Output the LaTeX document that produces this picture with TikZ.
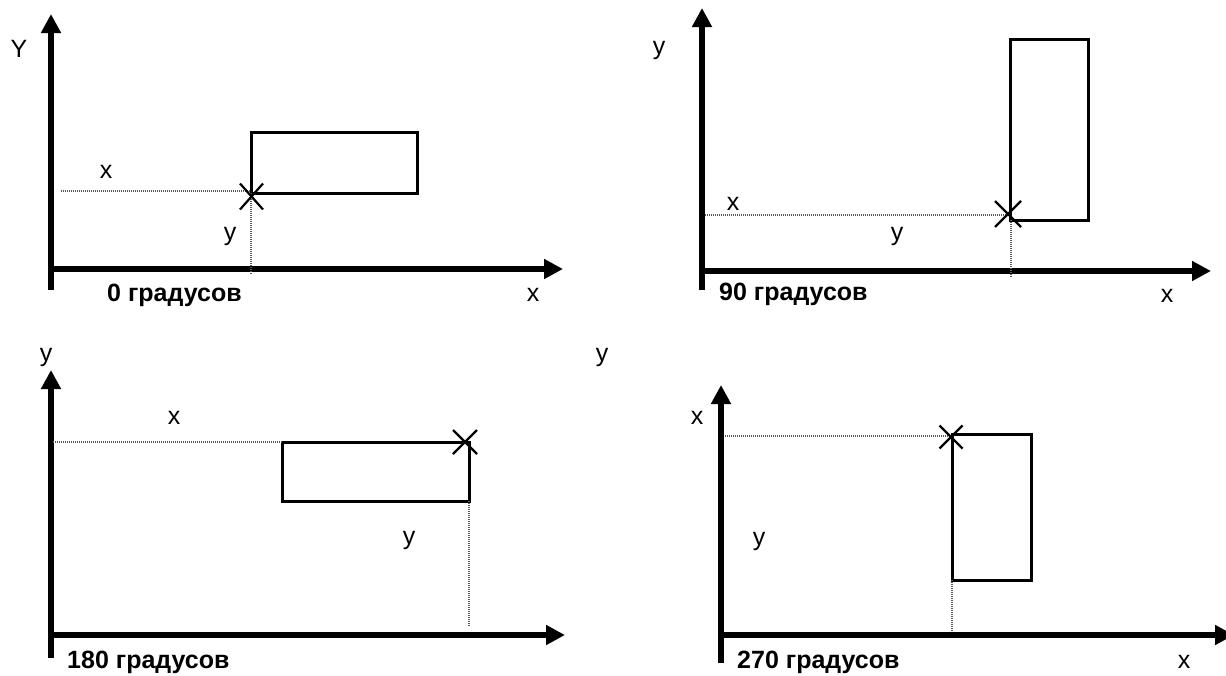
\documentclass[tikz,border=0pt]{standalone}
\usepackage{fontspec}
\setmainfont{Liberation Sans}
\usetikzlibrary{arrows.meta}
\begin{document}
\begin{tikzpicture}[x=1pt,y=-1pt,
  axisline/.style={line width=5.5pt,-{Triangle[length=19pt,width=19pt]}},
  frame/.style={line width=3pt},
  crossline/.style={line width=2.2pt},
  guide/.style={line width=1.1pt,black!65,dash pattern=on 1pt off 1pt},
  lbl/.style={inner sep=0pt,anchor=base,font=\fontsize{25}{29}\selectfont},
  ttl/.style={inner sep=0pt,anchor=base west,font=\fontsize{25}{29}\selectfont\bfseries}]
\useasboundingbox (0,0) rectangle (1226,675);
% ---------- panel 1: 0 degrees ----------
\coordinate (a1b) at (51,290);
\coordinate (a1t) at (51,14);
\coordinate (a1o) at (48.5,269);
\coordinate (a1r) at (563,269);
\draw[axisline] (a1b) -- (a1t);
\draw[axisline] (a1o) -- (a1r);
\coordinate (r1a) at (251,132);
\coordinate (r1b) at (417,193);
\draw[frame] (r1a) rectangle (r1b);
\coordinate (g1a) at (61,191);
\coordinate (g1b) at (251,191);
\coordinate (g1c) at (251,193);
\coordinate (g1d) at (251,275);
\draw[guide] (g1a) -- (g1b);
\draw[guide] (g1c) -- (g1d);
\coordinate (c1) at (251.5,196.5);
\draw[crossline,shift={(c1)}] (-11.5,-13) -- (11.5,13) (-11.5,13) -- (11.5,-13);
\node[lbl] (l1Y) at (19,57) {Y};
\node[lbl] (l1x) at (106,178) {x};
\node[lbl] (l1y) at (230,240) {y};
\node[lbl] (l1ax) at (533,301) {x};
\node[ttl] (t1) at (107,301) {0 градусов};
% ---------- panel 2: 90 degrees ----------
\coordinate (a2b) at (702,290);
\coordinate (a2t) at (702,8);
\coordinate (a2o) at (699.5,271);
\coordinate (a2r) at (1211,271);
\draw[axisline] (a2b) -- (a2t);
\draw[axisline] (a2o) -- (a2r);
\coordinate (r2a) at (1010,39);
\coordinate (r2b) at (1088,220);
\draw[frame] (r2a) rectangle (r2b);
\coordinate (g2a) at (705,215);
\coordinate (g2b) at (1010,215);
\coordinate (g2c) at (1011,220);
\coordinate (g2d) at (1011,277);
\draw[guide] (g2a) -- (g2b);
\draw[guide] (g2c) -- (g2d);
\coordinate (c2) at (1008,214);
\draw[crossline,shift={(c2)}] (-13,-13) -- (13,13) (-13,13) -- (13,-13);
\node[lbl] (l2y) at (659,54.5) {y};
\node[lbl] (l2x) at (733,210) {x};
\node[lbl] (l2yy) at (897,240) {y};
\node[lbl] (l2ax) at (1167,302) {x};
\node[ttl] (t2) at (719,300) {90 градусов};
% ---------- panel 3: 180 degrees ----------
\coordinate (a3b) at (51,658);
\coordinate (a3t) at (51,370);
\coordinate (a3o) at (48.5,635);
\coordinate (a3r) at (565,635);
\draw[axisline] (a3b) -- (a3t);
\draw[axisline] (a3o) -- (a3r);
\coordinate (r3a) at (282,442);
\coordinate (r3b) at (469,501);
\draw[frame] (r3a) rectangle (r3b);
\coordinate (g3a) at (53,442);
\coordinate (g3b) at (282,442);
\coordinate (g3c) at (469,501);
\coordinate (g3d) at (469,626);
\draw[guide] (g3a) -- (g3b);
\draw[guide] (g3c) -- (g3d);
\coordinate (c3) at (465,442);
\draw[crossline,shift={(c3)}] (-12,-12) -- (12,12) (-12,12) -- (12,-12);
\node[lbl] (l3y) at (46,361) {y};
\node[lbl] (l3x) at (174,424) {x};
\node[lbl] (l3yy) at (409,544) {y};
\node[ttl] (t3) at (67,668) {180 градусов};
% ---------- panel 4: 270 degrees ----------
\coordinate (a4b) at (721,663);
\coordinate (a4t) at (721,385);
\coordinate (a4o) at (718.5,635);
\coordinate (a4r) at (1234,635);
\draw[axisline] (a4b) -- (a4t);
\draw[axisline] (a4o) -- (a4r);
\coordinate (r4a) at (952,434);
\coordinate (r4b) at (1031,580);
\draw[frame] (r4a) rectangle (r4b);
\coordinate (g4a) at (725,436);
\coordinate (g4b) at (952,436);
\coordinate (g4c) at (952,580);
\coordinate (g4d) at (952,632);
\draw[guide] (g4a) -- (g4b);
\draw[guide] (g4c) -- (g4d);
\coordinate (c4) at (951,437);
\draw[crossline,shift={(c4)}] (-11.5,-11.5) -- (11.5,11.5) (-11.5,11.5) -- (11.5,-11.5);
\node[lbl] (l4y) at (602,361) {y};
\node[lbl] (l4x) at (697,424) {x};
\node[lbl] (l4yy) at (759,545) {y};
\node[lbl] (l4ax) at (1184,668) {x};
\node[ttl] (t4) at (737,668) {270 градусов};
\end{tikzpicture}
\end{document}
